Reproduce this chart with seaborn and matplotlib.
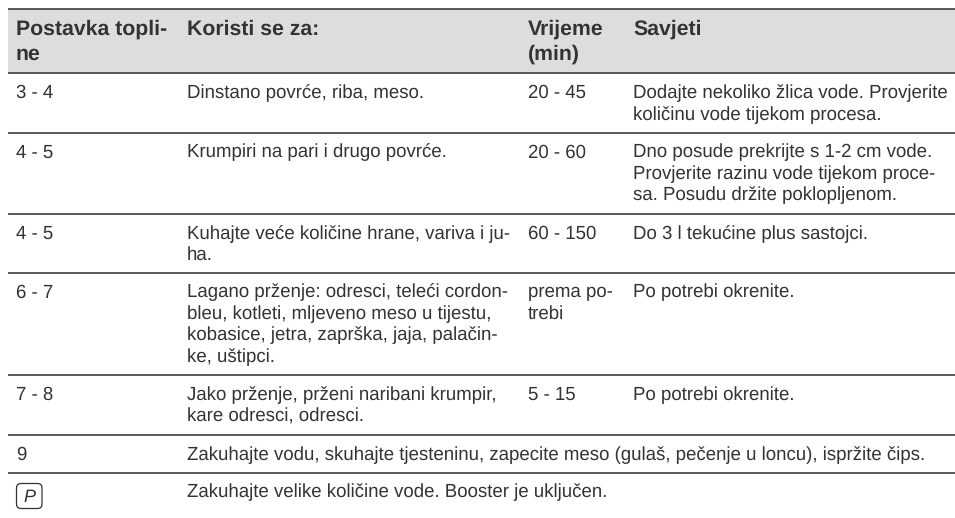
import matplotlib
matplotlib.use('Agg')
import matplotlib.pyplot as plt
import seaborn as sns
from matplotlib.patches import FancyBboxPatch

# Table content
headers = ['Postavka topli-\nne', 'Koristi se za:', 'Vrijeme\n(min)', 'Savjeti']
col_heat = ['3 - 4', '4 - 5', '4 - 5', '6 - 7', '7 - 8', '9', '']
col_use = [
    'Dinstano povrće, riba, meso.',
    'Krumpiri na pari i drugo povrće.',
    'Kuhajte veće količine hrane, variva i ju-\nha.',
    'Lagano prženje: odresci, teleći cordon-\nbleu, kotleti, mljeveno meso u tijestu,\nkobasice, jetra, zaprška, jaja, palačin-\nke, uštipci.',
    'Jako prženje, prženi naribani krumpir,\nkare odresci, odresci.',
    'Zakuhajte vodu, skuhajte tjesteninu, zapecite meso (gulaš, pečenje u loncu), ispržite čips.',
    'Zakuhajte velike količine vode. Booster je uključen.',
]
col_time = ['20 - 45', '20 - 60', '60 - 150', 'prema po-\ntrebi', '5 - 15', '', '']
col_tips = [
    'Dodajte nekoliko žlica vode. Provjerite\nkoličinu vode tijekom procesa.',
    'Dno posude prekrijte s 1-2 cm vode.\nProvjerite razinu vode tijekom proce-\nsa. Posudu držite poklopljenom.',
    'Do 3 l tekućine plus sastojci.',
    'Po potrebi okrenite.',
    'Po potrebi okrenite.',
    '',
    '',
]
rule_y = [8.5, 73.3, 132.7, 214, 272.7, 375, 435, 472.7]
col_x = [16, 187, 527.5, 633]
text_color = '#333333'

sns.set_theme(style='white')
plt.rcParams['font.family'] = ['Liberation Sans', 'DejaVu Sans']
plt.rcParams['text.hinting'] = 'no_hinting'

fig = plt.figure(figsize=(9.55, 5.18), dpi=100)
ax = fig.add_axes([0, 0, 1, 1])
ax.set_xlim(0, 955)
ax.set_ylim(518, 0)
ax.axis('off')


def put_lines(x, y, text, pitch, **kw):
    # one text per line so the line pitch stays exact
    for n, line in enumerate(text.split('\n')):
        ax.text(x, y + n * pitch, line, color=text_color, va='baseline', **kw)


# header band and rules
ax.axhspan(rule_y[0], rule_y[1], xmin=8 / 955, xmax=1, color='#dcddde', lw=0)
for y in rule_y:
    ax.plot([8, 955], [y, y], color='#333333', lw=1.15, solid_capstyle='butt')

for x, h in zip(col_x, headers):
    put_lines(x, 35, h, 24.3, fontsize=15.3, fontweight='bold')

for i in range(len(col_use)):
    base = rule_y[i + 1] + 24.8
    for x, col in zip(col_x, [col_heat, col_use, col_time, col_tips]):
        put_lines(x, base, col[i], 21.5, fontsize=13.42)

# booster key icon
ax.add_patch(FancyBboxPatch((16.5, 483.5), 25.5, 25, boxstyle='round,pad=0,rounding_size=4.5',
                            fc='white', ec=text_color, lw=0.9))
ax.text(29, 502, 'P', fontsize=13, style='italic', color=text_color, ha='center', va='baseline')

fig.savefig('out.png', dpi=100)
